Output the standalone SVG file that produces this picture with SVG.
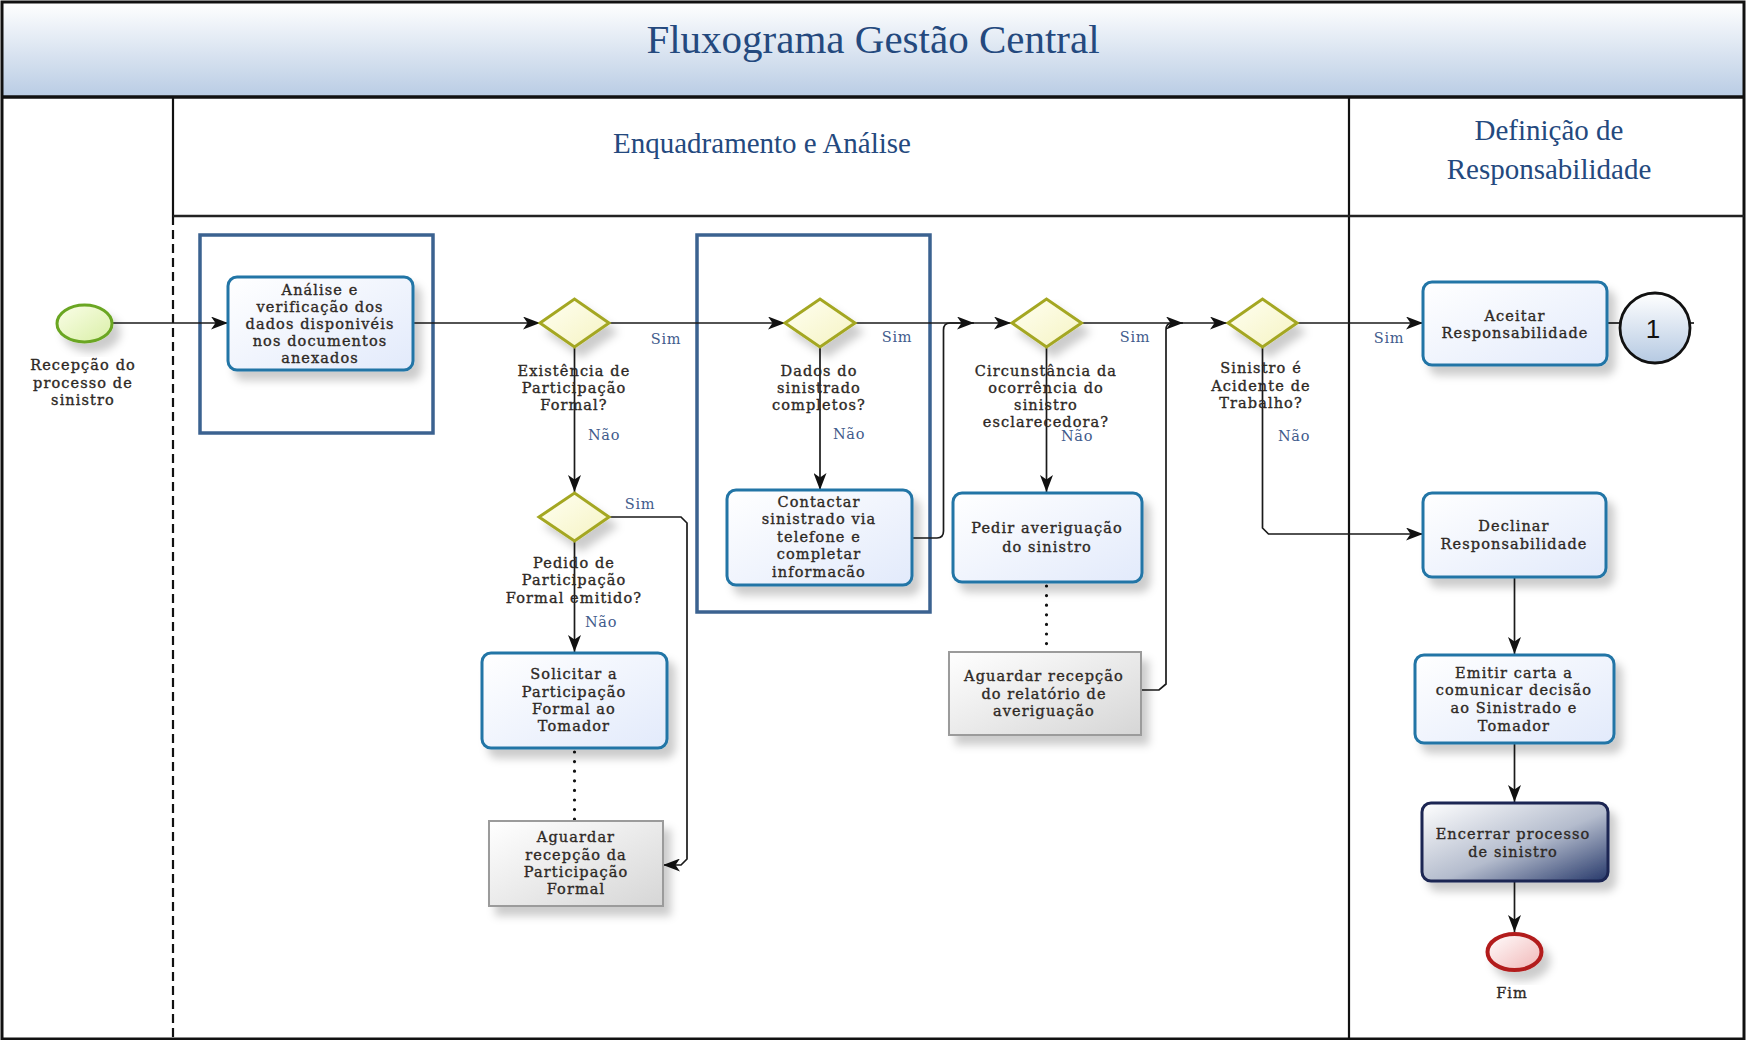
<svg xmlns="http://www.w3.org/2000/svg" width="1746" height="1040" viewBox="0 0 1746 1040">
  <defs>
    <linearGradient id="gTitle" x1="0" y1="0" x2="0" y2="1">
      <stop offset="0" stop-color="#ffffff"/>
      <stop offset="1" stop-color="#b9cce4"/>
    </linearGradient>
    <linearGradient id="gTask" x1="0" y1="0" x2="1" y2="1">
      <stop offset="0" stop-color="#ffffff"/>
      <stop offset="1" stop-color="#e2eafb"/>
    </linearGradient>
    <linearGradient id="gWait" x1="0" y1="0" x2="1" y2="1">
      <stop offset="0" stop-color="#ffffff"/>
      <stop offset="1" stop-color="#d6d6d6"/>
    </linearGradient>
    <linearGradient id="gDark" x1="0" y1="0" x2="1" y2="1">
      <stop offset="0" stop-color="#ffffff"/>
      <stop offset="0.55" stop-color="#b4bccd"/>
      <stop offset="1" stop-color="#26386a"/>
    </linearGradient>
    <linearGradient id="gGate" x1="0" y1="0" x2="1" y2="1">
      <stop offset="0" stop-color="#fffff2"/>
      <stop offset="1" stop-color="#f5f3c2"/>
    </linearGradient>
    <linearGradient id="gStart" x1="0" y1="0" x2="1" y2="1">
      <stop offset="0" stop-color="#fbfee9"/>
      <stop offset="1" stop-color="#d9efa6"/>
    </linearGradient>
    <linearGradient id="gEnd" x1="0" y1="0" x2="1" y2="1">
      <stop offset="0" stop-color="#ffffff"/>
      <stop offset="1" stop-color="#f1b5b5"/>
    </linearGradient>
    <linearGradient id="gLink" x1="0" y1="0" x2="0" y2="1">
      <stop offset="0" stop-color="#ffffff"/>
      <stop offset="1" stop-color="#b5c9e2"/>
    </linearGradient>
    <filter id="shadow" x="-20%" y="-20%" width="150%" height="160%">
      <feDropShadow dx="7" dy="9" stdDeviation="4" flood-color="#000" flood-opacity="0.2"/>
    </filter>
    <marker id="arrow" viewBox="0 0 17 13" markerWidth="17" markerHeight="13" refX="17" refY="6.5" orient="auto" markerUnits="userSpaceOnUse">
      <path d="M0,0 L17,6.5 L0,13 L4.5,6.5 z" fill="#111"/>
    </marker>
    <style>
      .task { fill: url(#gTask); stroke: #2275a6; stroke-width: 3; filter: url(#shadow); }
      .wait { fill: url(#gWait); stroke: #9b9b9b; stroke-width: 2; filter: url(#shadow); }
      .gate { fill: url(#gGate); stroke: #a4a722; stroke-width: 3; filter: url(#shadow); }
      .frame { fill: none; stroke: #3b6290; stroke-width: 3.5; }
      .flow { fill: none; stroke: #1a1a1a; stroke-width: 1.7; }
      .arr { marker-end: url(#arrow); }
      .dots { fill: none; stroke: #111; stroke-width: 3.2; stroke-dasharray: 0 9.6; stroke-linecap: round; }
      .lbl { font-family: "DejaVu Serif", "Liberation Serif", serif; font-size: 14.5px; letter-spacing: 1.1px; fill: #2e2925; stroke: #2e2925; stroke-width: 0.35px; text-anchor: middle; }
      .cond { font-family: "DejaVu Serif", "Liberation Serif", serif; font-size: 14.5px; letter-spacing: 0.7px; fill: #3f5b8c; text-anchor: middle; }
      .head { font-family: "Liberation Serif", "DejaVu Serif", serif; fill: #24497e; text-anchor: middle; }
      .lane { fill: none; stroke: #111; stroke-width: 2.2; }
    </style>
  </defs>

  <!-- pool outline and title band -->
  <rect x="0" y="0" width="1746" height="1040" fill="#ffffff"/>
  <rect x="2" y="2" width="1742" height="95" fill="url(#gTitle)"/>
  <text class="head" x="873" y="53" font-size="41">Fluxograma Gestão Central</text>

  <g id="lanes">
    <rect x="2" y="2" width="1742" height="1037" fill="none" stroke="#111" stroke-width="3"/>
    <line x1="2" y1="97" x2="1744" y2="97" stroke="#111" stroke-width="3.5"/>
    <line class="lane" x1="173" y1="97" x2="173" y2="216"/>
    <line class="lane" x1="173" y1="216" x2="173" y2="1039" stroke-dasharray="9 5"/>
    <line class="lane" x1="1349" y1="97" x2="1349" y2="1039"/>
    <line x1="173" y1="216" x2="1744" y2="216" stroke="#222" stroke-width="2.6"/>
    <text class="head" x="762" y="153" font-size="29">Enquadramento e Análise</text>
    <text class="head" x="1549" y="140" font-size="29">Definição de</text>
    <text class="head" x="1549" y="179" font-size="29">Responsabilidade</text>
  </g>

  <!-- grouping frames -->
  <g id="frame-analise"><rect class="frame" x="200" y="235" width="233" height="198"/></g>
  <g id="frame-dados"><rect class="frame" x="697" y="235" width="233" height="377"/></g>

  <g id="connectors">
    <path class="flow arr" d="M112,323 H228"/>
    <path class="flow arr" d="M413,323 H540"/>
    <path class="flow arr" d="M609,323 H785"/>
    <path class="flow arr" d="M855,323 H1011"/>
    <path class="flow arr" d="M912,538 H937 Q943.5,538 943.5,531 V330 Q943.5,323 950,323 H974"/>
    <path class="flow arr" d="M1082,323 H1227"/>
    <path class="flow arr" d="M1141,690 H1159 L1166,684 V330 Q1166,323 1172,323 H1183"/>
    <path class="flow arr" d="M1297,323 H1423"/>
    <path class="flow arr" d="M1262.5,347 V528 L1268.5,534 H1423"/>
    <path class="flow" d="M1607,323 H1620"/>
    <path class="flow" d="M1690,323 H1694"/>
    <path class="flow arr" d="M574.5,347 V492"/>
    <path class="flow arr" d="M820,347 V490"/>
    <path class="flow arr" d="M609,517 H681 L687,523 V859 L681,865 H663"/>
    <path class="flow arr" d="M574.5,541 V652"/>
    <path class="dots" d="M574.5,752 V820"/>
    <path class="flow arr" d="M1046.5,347 V492"/>
    <path class="dots" d="M1046.5,586 V651"/>
    <path class="flow arr" d="M1514.5,577 V654"/>
    <path class="flow arr" d="M1514.5,743 V802"/>
    <path class="flow arr" d="M1514.5,881 V932"/>

    <text class="cond" x="666" y="344">Sim</text>
    <text class="cond" x="604" y="440">Não</text>
    <text class="cond" x="897" y="342">Sim</text>
    <text class="cond" x="849" y="439">Não</text>
    <text class="cond" x="640" y="509">Sim</text>
    <text class="cond" x="601" y="627">Não</text>
    <text class="cond" x="1135" y="342">Sim</text>
    <text class="cond" x="1077" y="441">Não</text>
    <text class="cond" x="1294" y="441">Não</text>
    <text class="cond" x="1389" y="343">Sim</text>
  </g>

  <g id="start">
    <ellipse cx="84.5" cy="323.5" rx="27.5" ry="18.5" fill="url(#gStart)" stroke="#6aa622" stroke-width="3" filter="url(#shadow)"/>
    <text class="lbl"><tspan x="83" y="370">Recepção do</tspan><tspan x="83" y="388">processo de</tspan><tspan x="83" y="405">sinistro</tspan></text>
  </g>

  <g id="analise">
    <rect class="task" x="228" y="277" width="185" height="93" rx="9"/>
    <text class="lbl"><tspan x="320" y="295">Análise e</tspan><tspan x="320" y="312">verificação dos</tspan><tspan x="320" y="329">dados disponivéis</tspan><tspan x="320" y="346">nos documentos</tspan><tspan x="320" y="363">anexados</tspan></text>
  </g>

  <g id="gw-participacao">
    <polygon class="gate" points="540,323 574.5,299 609,323 574.5,347"/>
    <text class="lbl"><tspan x="574" y="376">Existência de</tspan><tspan x="574" y="393">Participação</tspan><tspan x="574" y="410">Formal?</tspan></text>
  </g>

  <g id="gw-dados">
    <polygon class="gate" points="785,323 820,299 855,323 820,347"/>
    <text class="lbl"><tspan x="819" y="376">Dados do</tspan><tspan x="819" y="393">sinistrado</tspan><tspan x="819" y="410">completos?</tspan></text>
  </g>

  <g id="gw-pedido">
    <polygon class="gate" points="539,517 574.5,493 609,517 574.5,541"/>
    <text class="lbl"><tspan x="574" y="568">Pedido de</tspan><tspan x="574" y="585">Participação</tspan><tspan x="574" y="603">Formal emitido?</tspan></text>
  </g>

  <g id="contactar">
    <rect class="task" x="727" y="490" width="185" height="95" rx="9"/>
    <text class="lbl"><tspan x="819" y="507">Contactar</tspan><tspan x="819" y="524">sinistrado via</tspan><tspan x="819" y="542">telefone e</tspan><tspan x="819" y="559">completar</tspan><tspan x="819" y="577">informacão</tspan></text>
  </g>

  <g id="solicitar">
    <rect class="task" x="482" y="653" width="185" height="95" rx="9"/>
    <text class="lbl"><tspan x="574" y="679">Solicitar a</tspan><tspan x="574" y="697">Participação</tspan><tspan x="574" y="714">Formal ao</tspan><tspan x="574" y="731">Tomador</tspan></text>
  </g>

  <g id="aguardar-participacao">
    <rect class="wait" x="489" y="821" width="174" height="85"/>
    <text class="lbl"><tspan x="576" y="842">Aguardar</tspan><tspan x="576" y="860">recepção da</tspan><tspan x="576" y="877">Participação</tspan><tspan x="576" y="894">Formal</tspan></text>
  </g>

  <g id="gw-circunstancia">
    <polygon class="gate" points="1012,323 1046.5,299 1081.5,323 1046.5,347"/>
    <text class="lbl"><tspan x="1046" y="376">Circunstância da</tspan><tspan x="1046" y="393">ocorrência do</tspan><tspan x="1046" y="410">sinistro</tspan><tspan x="1046" y="427">esclarecedora?</tspan></text>
  </g>

  <g id="pedir">
    <rect class="task" x="953" y="493" width="189" height="89" rx="9"/>
    <text class="lbl"><tspan x="1047" y="533">Pedir averiguação</tspan><tspan x="1047" y="552">do sinistro</tspan></text>
  </g>

  <g id="aguardar-relatorio">
    <rect class="wait" x="949" y="652" width="192" height="83"/>
    <text class="lbl"><tspan x="1044" y="681">Aguardar recepção</tspan><tspan x="1044" y="699">do relatório de</tspan><tspan x="1044" y="716">averiguação</tspan></text>
  </g>

  <g id="gw-acidente">
    <polygon class="gate" points="1228,323 1262.5,299 1297,323 1262.5,347"/>
    <text class="lbl"><tspan x="1261" y="373">Sinistro é</tspan><tspan x="1261" y="391">Acidente de</tspan><tspan x="1261" y="408">Trabalho?</tspan></text>
  </g>

  <g id="aceitar">
    <rect class="task" x="1423" y="282" width="184" height="83" rx="9"/>
    <text class="lbl"><tspan x="1515" y="321">Aceitar</tspan><tspan x="1515" y="338">Responsabilidade</tspan></text>
  </g>

  <g id="link-1">
    <circle cx="1655" cy="328" r="35" fill="url(#gLink)" stroke="#111" stroke-width="2.8"/>
    <text x="1653" y="338" font-family="Liberation Sans, Arial, sans-serif" font-size="26" fill="#111" text-anchor="middle">1</text>
  </g>

  <g id="declinar">
    <rect class="task" x="1423" y="493" width="183" height="84" rx="9"/>
    <text class="lbl"><tspan x="1514" y="531">Declinar</tspan><tspan x="1514" y="549">Responsabilidade</tspan></text>
  </g>

  <g id="emitir">
    <rect class="task" x="1415" y="655" width="199" height="88" rx="9"/>
    <text class="lbl"><tspan x="1514" y="678">Emitir carta a</tspan><tspan x="1514" y="695">comunicar decisão</tspan><tspan x="1514" y="713">ao Sinistrado e</tspan><tspan x="1514" y="731">Tomador</tspan></text>
  </g>

  <g id="encerrar">
    <rect x="1422" y="803" width="186" height="78" rx="9" fill="url(#gDark)" stroke="#1c2552" stroke-width="3" filter="url(#shadow)"/>
    <text class="lbl"><tspan x="1513" y="839">Encerrar processo</tspan><tspan x="1513" y="857">de sinistro</tspan></text>
  </g>

  <g id="fim">
    <ellipse cx="1514.5" cy="952" rx="27" ry="18" fill="url(#gEnd)" stroke="#b21d1d" stroke-width="4" filter="url(#shadow)"/>
    <text class="lbl" x="1512" y="998">Fim</text>
  </g>
</svg>
